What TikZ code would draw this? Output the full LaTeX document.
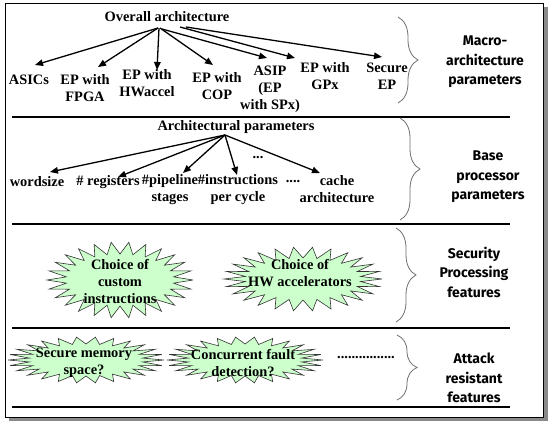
\documentclass[tikz,border=0pt]{standalone}
\usepackage{fontspec}
\setmainfont{Liberation Serif}
\newfontfamily\labelfont{Fira Sans}
\usetikzlibrary{arrows.meta,calc,decorations.pathreplacing}
\definecolor{burstgreen}{HTML}{CCFFCC}
\definecolor{bracegray}{HTML}{707070}
\definecolor{shadowgray}{HTML}{8A8A8A}
\tikzset{
  txt/.style={font=\bfseries\fontsize{14.4}{17}\selectfont, align=center, inner sep=0pt},
  lab/.style={font=\labelfont\bfseries\fontsize{14}{19.5}\selectfont, align=center, inner sep=0pt},
  arr/.style={-{Triangle[length=8pt,width=6.5pt]}, line width=1.3pt},
  sepline/.style={line width=2.8pt},
  bracestyle/.style={decorate, decoration={brace, amplitude=20pt}, draw=bracegray, line width=0.8pt},
  burst/.style={draw=black!80, fill=burstgreen, line width=0.6pt, line join=miter}
}
\newcommand\drawburst[6]{%
  \draw[burst] plot[domain=0:52, samples=53, variable=\k]
   ({#1+(#3-mod(round(\k),2)*#5)*cos(\k*6.9230769)},
    {#2+(#4-mod(round(\k),2)*#6)*sin(\k*6.9230769)}) -- cycle;}
\begin{document}
\begin{tikzpicture}[x=1pt, y=-1pt]
\useasboundingbox (0,0) rectangle (552,426);
% frame with shadow
\fill[shadowgray] (9,7) rectangle (548,421);
\draw[fill=white, line width=0.8pt] (5,3) rectangle (543,417);
% separator lines
\draw[sepline] (12,117) -- (510,117);
\draw[sepline] (12,224) -- (510,224);
\draw[sepline] (12,328) -- (510,328);
\draw[sepline] (12,407) -- (510,407);
% bursts
\drawburst{120}{280}{73}{38}{19}{12}
\drawburst{303}{279}{79}{32}{21}{11}
\drawburst{86}{360}{78}{23}{21}{7}
\drawburst{245}{360}{78}{23}{21}{7}
% top section
\node[txt] (oa) at (167,17) {Overall architecture};
\node[txt] (asics) at (29,80) {ASICs};
\node[txt] (fpga) at (85,88) {EP with\\FPGA};
\node[txt] (hwa) at (147,83) {EP with\\HWaccel};
\node[txt] (cop) at (217,86) {EP with\\COP};
\node[txt] (asip) at (270,89) {ASIP\\(EP\\with SPx)};
\node[txt] (gpx) at (325,76) {EP with\\GPx};
\node[txt] (sec) at (387,76) {Secure\\EP};
\draw[arr] ($(oa)+(-9,11)$) -- ($(asics)+(6,-15)$);
\draw[arr] ($(oa)+(-9,11)$) -- ($(fpga)+(13,-21)$);
\draw[arr] ($(oa)+(-8,11)$) -- ($(hwa)+(10,-13)$);
\draw[arr] ($(oa)+(-7,11)$) -- ($(cop)+(-4,-21)$);
\draw[arr] ($(oa)+(-5,12)$) -- ($(asip)+(-3,-31)$);
\draw[arr] ($(oa)+(13,10)$) -- ($(gpx)+(-30,-18)$);
\draw[arr] ($(oa)+(19,10)$) -- ($(sec)+(-5,-19)$);
% middle section
\node[txt] (ap) at (236,127) {Architectural parameters};
\node[txt] (ws) at (37,182) {wordsize};
\node[txt] (reg) at (108,182) {\# registers};
\node[txt] (pipe) at (170,190) {\#pipeline\\stages};
\node[txt] (ins) at (238,190) {\#instructions\\per cycle};
\node[txt] (dotsA) at (258,158) {...};
\node[txt] (dotsB) at (293,182) {....};
\node[txt] (cache) at (337,189) {cache\\architecture};
\draw[arr] ($(ap)+(-11,8)$) -- ($(ws)+(13,-10)$);
\draw[arr] ($(ap)+(-11,8)$) -- ($(reg)+(10,-5)$);
\draw[arr] ($(ap)+(-11,8)$) -- ($(pipe)+(13,-17)$);
\draw[arr] ($(ap)+(-11,8)$) -- ($(ins)+(-1,-15)$);
\draw[arr] ($(ap)+(-11,8)$) -- ($(cache)+(-17,-16)$);
% burst texts
\node[txt] (b1) at (120,282) {Choice of\\custom\\instructions};
\node[txt] (b2) at (300,273) {Choice of\\HW accelerators};
\node[txt] (b3) at (84,363) {Secure memory\\space?};
\node[txt] (b4) at (243,363) {Concurrent fault\\detection?};
\node[txt] (dotsC) at (366,358) {................};
% right labels
\node[lab] (l1) at (485,62) {Macro-\\architecture\\parameters};
\node[lab] (l2) at (488,177) {Base\\processor\\parameters};
\node[lab] (l3) at (474,272) {Security\\Processing\\features};
\node[lab] (l4) at (474,378) {Attack\\resistant\\features};
% braces
\draw[bracestyle] (398,17) -- (398,103);
\draw[bracestyle] (400,118) -- (400,220);
\draw[bracestyle] (396,228) -- (396,322);
\draw[bracestyle] (397,335) -- (397,400);
\end{tikzpicture}
\end{document}
